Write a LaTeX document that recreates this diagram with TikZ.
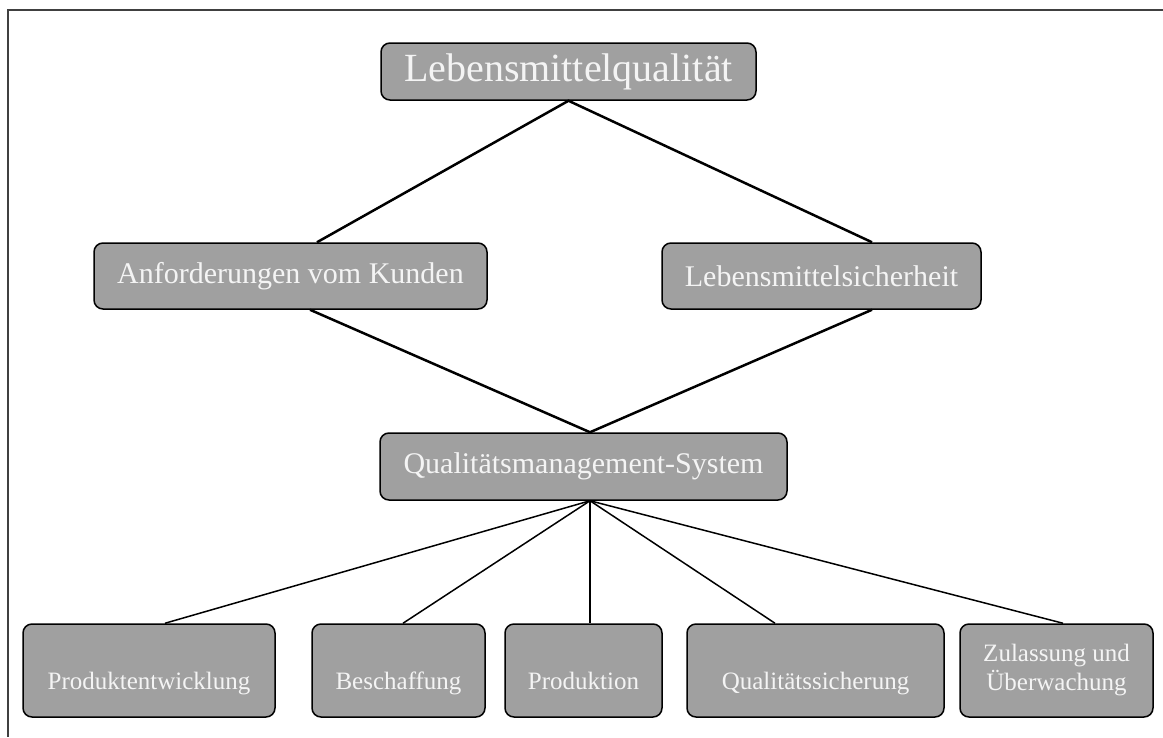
\documentclass[tikz,border=0pt]{standalone}
\usepackage{fontspec}
\setmainfont{Liberation Serif}
\definecolor{boxfill}{HTML}{A0A0A0}
\definecolor{boxtext}{HTML}{F4F4F4}
\definecolor{framecol}{HTML}{404040}
\tikzset{
  box/.style={draw=black, line width=1.5pt, fill=boxfill, rounded corners=9pt,
    text=boxtext, inner sep=0pt, align=center},
  bigbox/.style={box, font=\fontsize{40}{44}\selectfont},
  midbox/.style={box, font=\fontsize{30}{34}\selectfont},
  lowbox/.style={box, font=\fontsize{25}{29}\selectfont, minimum height=93pt},
  lowtext/.style={lowbox, text height=65pt, text depth=28pt},
  thickline/.style={line width=2.5pt, black},
  thinline/.style={line width=1.5pt, black},
  frameline/.style={line width=2pt, framecol}
}
\begin{document}
\begin{tikzpicture}[x=1pt,y=-1pt]
\useasboundingbox (0,0) rectangle (1163,737);
\coordinate (fa) at (1163,10);
\coordinate (fb) at (8,10);
\coordinate (fc) at (8,737);
\draw[frameline] (fa) -- (fb) -- (fc);

\node[bigbox, minimum width=375pt, minimum height=57pt] (top) at (568.5,71.5) {Lebensmittelqualität};
\node[midbox, minimum width=393pt, minimum height=66pt] (A) at (290.5,276) {Anforderungen vom Kunden};
\node[midbox, minimum width=319pt, minimum height=66pt] (L) at (821.5,276) {Lebensmittelsicherheit};
\node[midbox, minimum width=407pt, minimum height=67pt] (Q) at (583.5,466.5) {Qualitätsmanagement-System};

\node[lowtext, text width=252pt] (P1) at (149,670.5) {Produktentwicklung};
\node[lowtext, text width=173pt] (B) at (398.5,670.5) {Beschaffung};
\node[lowtext, text width=157pt] (Pr) at (583.5,670.5) {Produktion};
\node[lowtext, text width=257pt] (QS) at (815.5,670.5) {Qualitätssicherung};
\node[lowbox, minimum width=193pt] (Z) at (1056.5,670.5) {Zulassung und\\Überwachung};

\draw[thickline] ([xshift=26.5pt]A.north) -- (top.south) -- ([xshift=50.5pt]L.north);
\draw[thickline] ([xshift=19.5pt]A.south) -- ([xshift=6.5pt]Q.north) -- ([xshift=50.5pt]L.south);

\draw[thinline] ([xshift=6.5pt]Q.south) -- ([xshift=16pt]P1.north);
\draw[thinline] ([xshift=6.5pt]Q.south) -- ([xshift=4.5pt]B.north);
\draw[thinline] ([xshift=6.5pt]Q.south) -- ([xshift=6.5pt]Pr.north);
\draw[thinline] ([xshift=6.5pt]Q.south) -- ([xshift=-40.5pt]QS.north);
\draw[thinline] ([xshift=6.5pt]Q.south) -- ([xshift=6.5pt]Z.north);
\end{tikzpicture}
\end{document}
